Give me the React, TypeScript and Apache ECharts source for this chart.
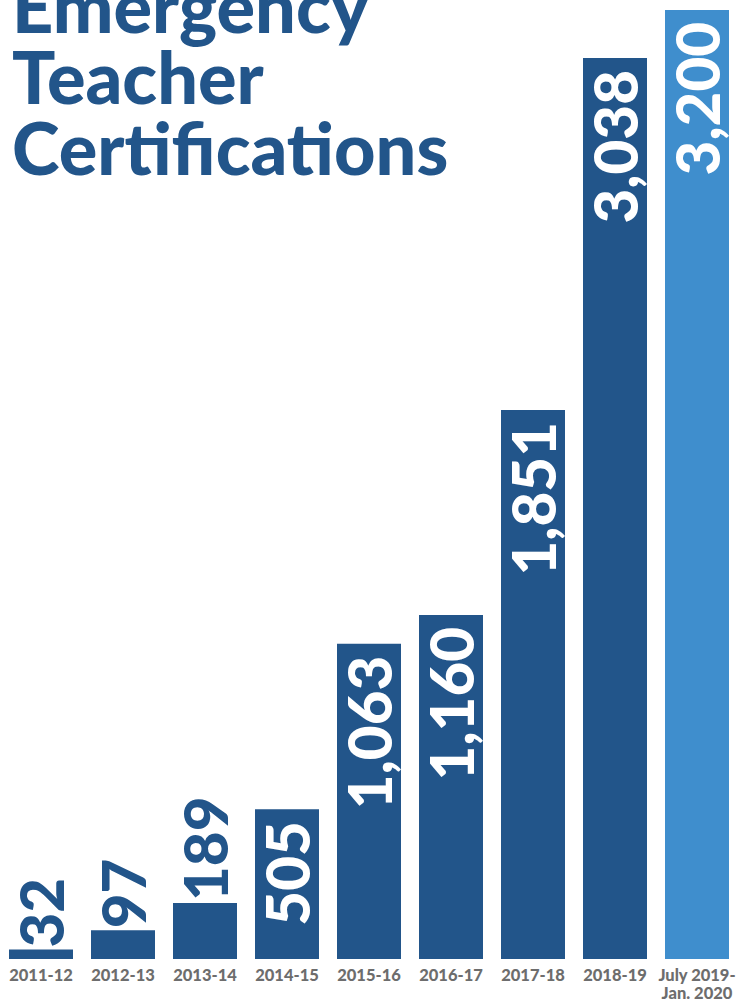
import React, { useEffect, useRef } from "react";
import * as echarts from "echarts";

const categories = [
  "2011-12",
  "2012-13",
  "2013-14",
  "2014-15",
  "2015-16",
  "2016-17",
  "2017-18",
  "2018-19",
  "July 2019-\nJan. 2020",
];
const values = [32, 97, 189, 505, 1063, 1160, 1851, 3038, 3200];
const insideLabel = [false, false, false, true, true, true, true, true, true];
const titleLines = ["Emergency", "Teacher", "Certifications"];

const DARK = "#22558a";
const LIGHT = "#3f8ecd";

export default function App() {
  const ref = useRef<HTMLDivElement>(null);
  useEffect(() => {
    document.body.style.margin = "0";
    const chart = echarts.init(ref.current!, null, { renderer: "svg" });
    const data = values.map((v, i) => ({
      value: v,
      itemStyle: { color: i === values.length - 1 ? LIGHT : DARK },
      label: insideLabel[i]
        ? {
            position: "insideTop",
            align: "right",
            verticalAlign: "middle",
            distance: 12,
            color: "#ffffff",
          }
        : {
            position: "top",
            align: "left",
            verticalAlign: "middle",
            distance: 2,
            color: DARK,
          },
    }));
    chart.setOption({
      animation: false,
      grid: { left: 0, right: 3, top: 10, bottom: 44 },
      xAxis: {
        type: "category",
        data: categories,
        axisLine: { show: false },
        axisTick: { show: false },
        axisLabel: {
          interval: 0,
          margin: 7,
          color: "#6d6d6d",
          fontFamily: "Lato",
          fontWeight: 900,
          fontSize: 16.5,
          lineHeight: 18,
          verticalAlign: "top",
        },
      },
      yAxis: { type: "value", min: 0, max: 3200, show: false },
      graphic: [
        {
          type: "text",
          left: 12,
          top: -31,
          style: {
            text: titleLines.join("\n"),
            fill: DARK,
            fontFamily: "Lato",
            fontWeight: 900,
            fontSize: 72,
            lineHeight: 71,
          },
        },
      ],
      series: [
        {
          type: "bar",
          data,
          barWidth: 64,
          label: {
            show: true,
            rotate: 90,
            fontFamily: "Lato",
            fontWeight: 900,
            fontSize: 60,
            formatter: (p: any) => p.value.toLocaleString("en-US"),
          },
        },
      ],
    });
    return () => chart.dispose();
  }, []);
  return <div ref={ref} style={{ width: 741, height: 1003 }} />;
}
